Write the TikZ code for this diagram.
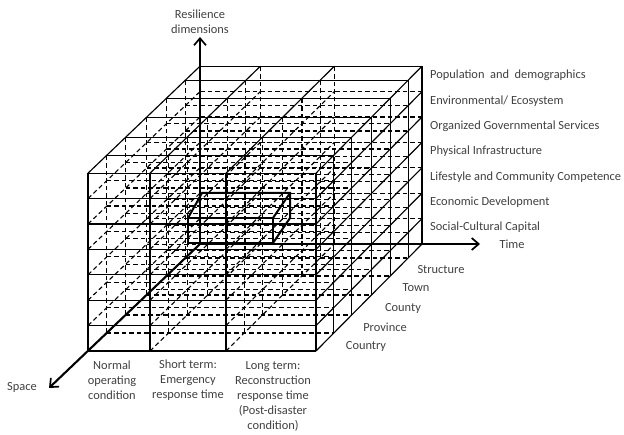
\documentclass[tikz,border=0pt]{standalone}
\usepackage{fontspec}
\setmainfont{Carlito}
\usetikzlibrary{arrows.meta}
\begin{document}
\begin{tikzpicture}[x=1pt,y=-1pt,
  gridline/.style={line width=1.15pt, black},
  hidline/.style={line width=1.1pt, black, dash pattern=on 4.5pt off 3pt},
  axisline/.style={line width=2.1pt, black, -{Straight Barb[length=7pt,width=12pt,line width=1.7pt]}},
  boxline/.style={line width=2pt, black, line join=miter},
  lbl/.style={text=black!75, font=\fontsize{12.4}{15}\selectfont, inner sep=0pt},
]
\useasboundingbox (0,0) rectangle (624,435);
% lattice points p-i-j-k : column i, row j, depth k
\foreach \x [count=\i from 0] in {88,150,226,316} {
  \foreach \dy [count=\k from 0] in {0,18,36,56,75,93,107} {
    \pgfmathsetmacro\dx{\dy/107*(112-6*(\x-88)/228)}
    \foreach \j in {0,...,7} {
      \pgfmathsetmacro\yy{351-25.4*\j-\dy}
      \coordinate (p-\i-\j-\k) at (\x+\dx, \yy);
    }
  }
}
% hidden lines
\foreach \j in {0,...,6} \foreach \k in {1,...,6} \draw[hidline] (p-0-\j-\k) -- (p-3-\j-\k);
\foreach \i in {0,1,2} \foreach \k in {1,...,6} \draw[hidline] (p-\i-0-\k) -- (p-\i-7-\k);
\foreach \i in {0,1,2} \foreach \j in {0,...,6} \draw[hidline] (p-\i-\j-0) -- (p-\i-\j-6);
% visible faces
\foreach \j in {0,...,7} \draw[gridline] (p-0-\j-0) -- (p-3-\j-0);
\foreach \i in {0,...,3} \draw[gridline] (p-\i-0-0) -- (p-\i-7-0);
\foreach \k in {1,...,6} \draw[gridline] (p-0-7-\k) -- (p-3-7-\k);
\foreach \i in {0,...,3} \draw[gridline] (p-\i-7-0) -- (p-\i-7-6);
\foreach \k in {1,...,6} \draw[gridline] (p-3-0-\k) -- (p-3-7-\k);
\foreach \j in {0,...,6} \draw[gridline] (p-3-\j-0) -- (p-3-\j-6);
% highlighted cell
\coordinate (b1) at (188,243); \coordinate (b2) at (188,218);
\coordinate (b3) at (273,218); \coordinate (b4) at (273,243);
\coordinate (b5) at (202,193); \coordinate (b6) at (290,193);
\coordinate (b7) at (290,218);
\draw[boxline] (b1) -- (b2) -- (b3) -- (b4) -- cycle;
\draw[boxline] (b2) -- (b5) -- (b6) -- (b7) -- (b4);
\draw[boxline] (b3) -- (b6);
% axes
\coordinate (O) at (p-0-0-6);
\coordinate (tipR) at (200,37);
\coordinate (tipT) at (480,244);
\coordinate (tipS) at (49,388);
\draw[axisline] (O) -- (tipR);
\draw[axisline] (O) -- (tipT);
\draw[axisline] (O) -- (tipS);
% labels
\node[lbl, align=center] (lres) at (200,22) {Resilience\\dimensions};
\node[lbl] (ltime) at (512,244) {Time};
\node[lbl] (lspace) at (22,387) {Space};
\node[lbl, anchor=west] (d1) at (430,75) {Population\ \ and\ \ demographics};
\node[lbl, anchor=west] (d2) at (430,101) {Environmental/ Ecosystem};
\node[lbl, anchor=west] (d3) at (430,126) {Organized Governmental Services};
\node[lbl, anchor=west] (d4) at (430,151) {Physical Infrastructure};
\node[lbl, anchor=west] (d5) at (430,177) {Lifestyle and Community Competence};
\node[lbl, anchor=west] (d6) at (430,202) {Economic Development};
\node[lbl, anchor=west] (d7) at (430,227) {Social-Cultural Capital};
\node[lbl] (s1) at (441,270) {Structure};
\node[lbl] (s2) at (416,288) {Town};
\node[lbl] (s3) at (403,308) {County};
\node[lbl] (s4) at (385,327) {Province};
\node[lbl] (s5) at (366,346) {Country};
\node[lbl, align=center] (t1) at (112,380) {Normal\\operating\\condition};
\node[lbl, align=center] (t2) at (188,380) {Short term:\\Emergency\\response time};
\node[lbl, align=center] (t3) at (273,396) {Long term:\\Reconstruction\\response time\\(Post-disaster\\condition)};
\end{tikzpicture}
\end{document}
